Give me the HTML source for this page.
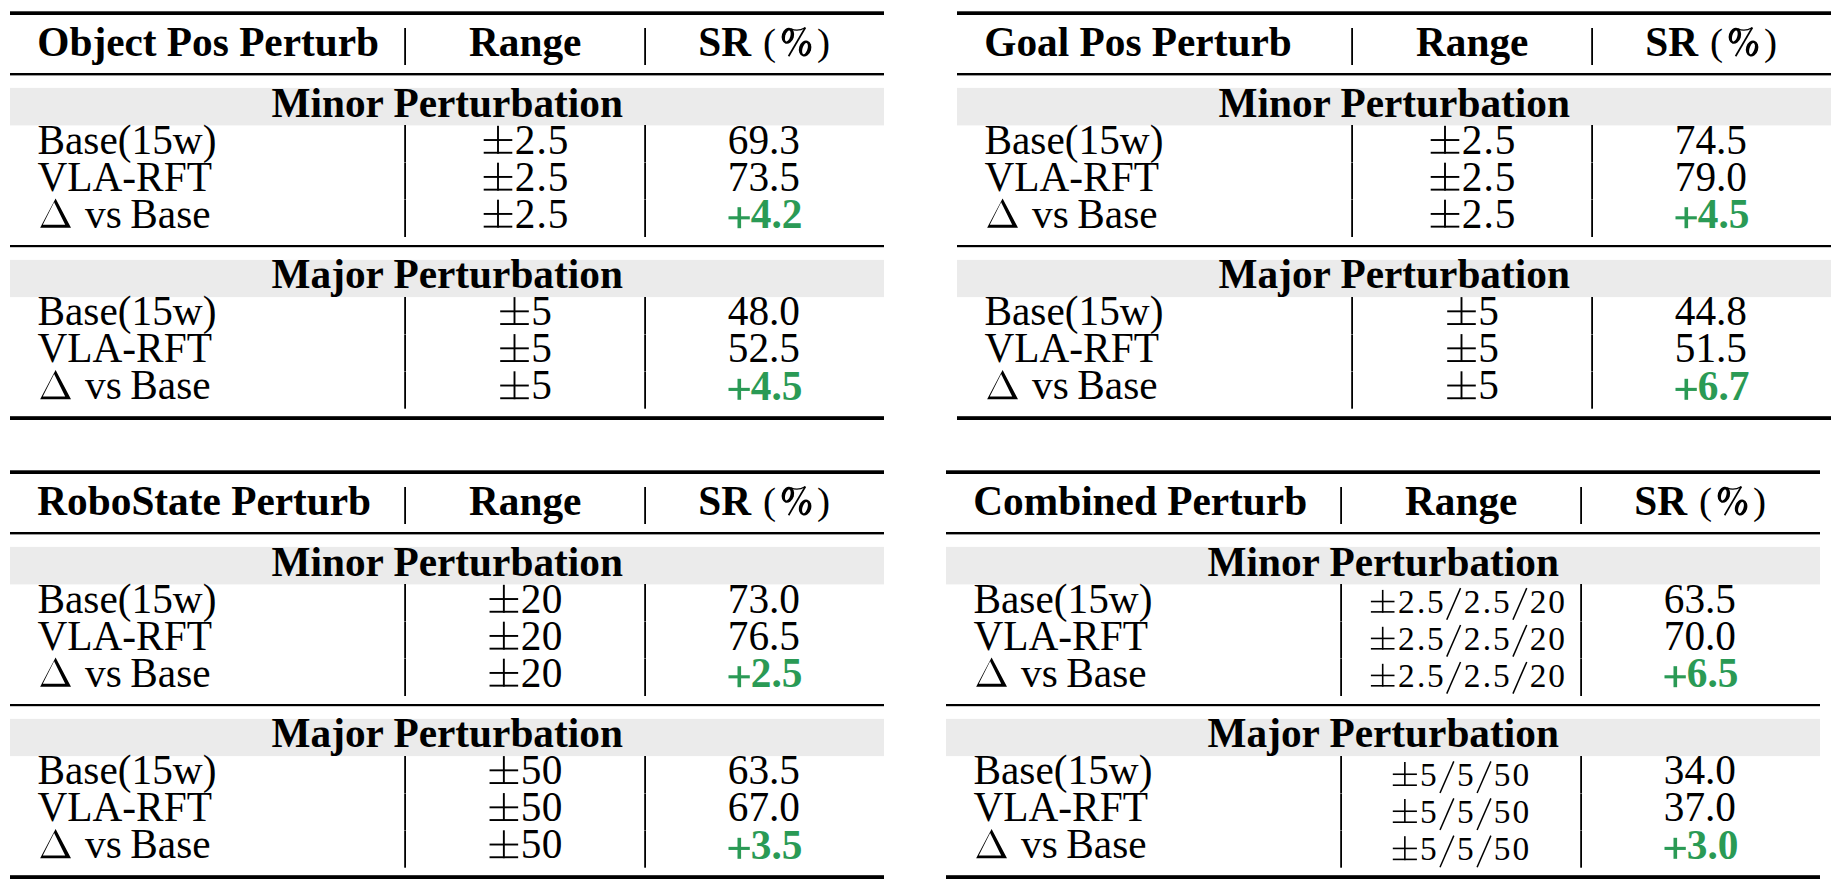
<!DOCTYPE html>
<html><head><meta charset="utf-8"><title>Perturbation tables</title>
<style>
html,body{margin:0;padding:0;background:#fff;}
body{width:1836px;height:893px;position:relative;overflow:hidden;}
svg text{font-family:"Liberation Serif",serif;}
</style></head><body>
<svg width="1836" height="893" viewBox="0 0 1836 893" style="position:absolute;left:0;top:0"><rect x="10.00" y="87.90" width="874.00" height="37.50" fill="#ebebeb"/><rect x="10.00" y="259.90" width="874.00" height="37.20" fill="#ebebeb"/><rect x="10.00" y="11.30" width="874.00" height="3.70" fill="#000"/><rect x="10.00" y="73.00" width="874.00" height="2.40" fill="#000"/><rect x="10.00" y="245.00" width="874.00" height="2.20" fill="#000"/><rect x="10.00" y="416.20" width="874.00" height="3.80" fill="#000"/><rect x="404.20" y="28.00" width="1.80" height="37.00" fill="#000"/><rect x="404.20" y="125.00" width="1.80" height="37.25" fill="#000"/><rect x="404.20" y="162.55" width="1.80" height="36.60" fill="#000"/><rect x="404.20" y="199.45" width="1.80" height="37.55" fill="#000"/><rect x="404.20" y="297.00" width="1.80" height="37.25" fill="#000"/><rect x="404.20" y="334.55" width="1.80" height="36.60" fill="#000"/><rect x="404.20" y="371.45" width="1.80" height="37.25" fill="#000"/><rect x="644.20" y="28.00" width="1.80" height="37.00" fill="#000"/><rect x="644.20" y="125.00" width="1.80" height="37.25" fill="#000"/><rect x="644.20" y="162.55" width="1.80" height="36.60" fill="#000"/><rect x="644.20" y="199.45" width="1.80" height="37.55" fill="#000"/><rect x="644.20" y="297.00" width="1.80" height="37.25" fill="#000"/><rect x="644.20" y="334.55" width="1.80" height="36.60" fill="#000"/><rect x="644.20" y="371.45" width="1.80" height="37.25" fill="#000"/><text x="37.30" y="56.00" text-anchor="start" font-weight="bold" fill="#000" font-size="41.3">Object Pos Perturb</text><text x="525.20" y="56.00" text-anchor="middle" font-weight="bold" fill="#000" font-size="41.3">Range</text><text x="698.30" y="56.00" text-anchor="start" font-weight="bold" fill="#000" font-size="41.3">SR</text><text transform="translate(769.60,55.00) scale(0.95,0.92)" text-anchor="middle" font-size="41.3">(</text><g transform="translate(0.00,0.00)"><ellipse cx="0" cy="0" rx="6.1" ry="8.2" transform="translate(787.9,35.8) rotate(16.6)"/><ellipse cx="0" cy="0" rx="2.5" ry="5.7" fill="#fff" transform="translate(787.8,36.0) rotate(16.6)"/><ellipse cx="0" cy="0" rx="6.1" ry="8.1" transform="translate(805.1,48.5) rotate(16.6)"/><ellipse cx="0" cy="0" rx="2.5" ry="5.8" fill="#fff" transform="translate(805.0,48.6) rotate(16.6)"/><line x1="788.6" y1="56.2" x2="805.4" y2="27.5" stroke="#000" stroke-width="1.7"/><path d="M790.5 28.6 Q797.5 32.2 805.0 27.8" fill="none" stroke="#000" stroke-width="1.2"/></g><text transform="translate(823.60,55.00) scale(0.95,0.92)" text-anchor="middle" font-size="41.3">)</text><text x="447.20" y="116.80" text-anchor="middle" font-weight="bold" fill="#000" font-size="41.3">Minor Perturbation</text><text x="447.20" y="287.70" text-anchor="middle" font-weight="bold" fill="#000" font-size="41.3">Major Perturbation</text><text x="37.50" y="153.70" text-anchor="start" font-weight="normal" fill="#000" font-size="41.3">Base(15w)</text><text x="37.50" y="190.60" text-anchor="start" font-weight="normal" fill="#000" font-size="41.3">VLA-RFT</text><path fill-rule="evenodd" d="M55.60 198.40 L71.00 227.70 L40.15 227.70 Z M54.10 202.30 L42.80 224.80 L65.20 224.80 Z"/><text x="85.00" y="227.60" text-anchor="start" font-weight="normal" fill="#000" font-size="41.3">vs</text><text x="130.30" y="227.60" text-anchor="start" font-weight="normal" fill="#000" font-size="41.3">Base</text><rect x="497.05" y="125.80" width="1.90" height="27.90" fill="#000"/><rect x="483.70" y="139.08" width="28.60" height="1.90" fill="#000"/><rect x="483.70" y="151.80" width="28.60" height="1.90" fill="#000"/><text x="525.00" y="153.70" text-anchor="middle" font-weight="normal" fill="#000" font-size="41.3">2</text><text x="541.60" y="153.70" text-anchor="middle" font-weight="normal" fill="#000" font-size="41.3">.</text><text x="558.15" y="153.70" text-anchor="middle" font-weight="normal" fill="#000" font-size="41.3">5</text><rect x="497.05" y="162.70" width="1.90" height="27.90" fill="#000"/><rect x="483.70" y="175.98" width="28.60" height="1.90" fill="#000"/><rect x="483.70" y="188.70" width="28.60" height="1.90" fill="#000"/><text x="525.00" y="190.60" text-anchor="middle" font-weight="normal" fill="#000" font-size="41.3">2</text><text x="541.60" y="190.60" text-anchor="middle" font-weight="normal" fill="#000" font-size="41.3">.</text><text x="558.15" y="190.60" text-anchor="middle" font-weight="normal" fill="#000" font-size="41.3">5</text><rect x="497.05" y="199.70" width="1.90" height="27.90" fill="#000"/><rect x="483.70" y="212.98" width="28.60" height="1.90" fill="#000"/><rect x="483.70" y="225.70" width="28.60" height="1.90" fill="#000"/><text x="525.00" y="227.60" text-anchor="middle" font-weight="normal" fill="#000" font-size="41.3">2</text><text x="541.60" y="227.60" text-anchor="middle" font-weight="normal" fill="#000" font-size="41.3">.</text><text x="558.15" y="227.60" text-anchor="middle" font-weight="normal" fill="#000" font-size="41.3">5</text><text x="763.90" y="153.70" text-anchor="middle" font-weight="normal" fill="#000" font-size="41.3">69.3</text><text x="763.90" y="190.60" text-anchor="middle" font-weight="normal" fill="#000" font-size="41.3">73.5</text><rect x="737.50" y="207.20" width="3.60" height="21.00" fill="#2a9a55"/><rect x="728.50" y="216.25" width="21.30" height="3.10" fill="#2a9a55"/><text x="776.55" y="228.30" text-anchor="middle" font-weight="bold" fill="#2a9a55" font-size="41.3">4.2</text><text x="37.50" y="325.00" text-anchor="start" font-weight="normal" fill="#000" font-size="41.3">Base(15w)</text><text x="37.50" y="362.00" text-anchor="start" font-weight="normal" fill="#000" font-size="41.3">VLA-RFT</text><path fill-rule="evenodd" d="M55.60 370.00 L71.00 399.30 L40.15 399.30 Z M54.10 373.90 L42.80 396.40 L65.20 396.40 Z"/><text x="85.00" y="399.20" text-anchor="start" font-weight="normal" fill="#000" font-size="41.3">vs</text><text x="130.30" y="399.20" text-anchor="start" font-weight="normal" fill="#000" font-size="41.3">Base</text><rect x="513.55" y="297.10" width="1.90" height="27.90" fill="#000"/><rect x="500.20" y="310.38" width="28.60" height="1.90" fill="#000"/><rect x="500.20" y="323.10" width="28.60" height="1.90" fill="#000"/><text x="541.60" y="325.00" text-anchor="middle" font-weight="normal" fill="#000" font-size="41.3">5</text><rect x="513.55" y="334.10" width="1.90" height="27.90" fill="#000"/><rect x="500.20" y="347.38" width="28.60" height="1.90" fill="#000"/><rect x="500.20" y="360.10" width="28.60" height="1.90" fill="#000"/><text x="541.60" y="362.00" text-anchor="middle" font-weight="normal" fill="#000" font-size="41.3">5</text><rect x="513.55" y="371.30" width="1.90" height="27.90" fill="#000"/><rect x="500.20" y="384.58" width="28.60" height="1.90" fill="#000"/><rect x="500.20" y="397.30" width="28.60" height="1.90" fill="#000"/><text x="541.60" y="399.20" text-anchor="middle" font-weight="normal" fill="#000" font-size="41.3">5</text><text x="763.90" y="325.00" text-anchor="middle" font-weight="normal" fill="#000" font-size="41.3">48.0</text><text x="763.90" y="362.00" text-anchor="middle" font-weight="normal" fill="#000" font-size="41.3">52.5</text><rect x="737.50" y="378.80" width="3.60" height="21.00" fill="#2a9a55"/><rect x="728.50" y="387.85" width="21.30" height="3.10" fill="#2a9a55"/><text x="776.55" y="399.90" text-anchor="middle" font-weight="bold" fill="#2a9a55" font-size="41.3">4.5</text><rect x="957.00" y="87.90" width="874.00" height="37.50" fill="#ebebeb"/><rect x="957.00" y="259.90" width="874.00" height="37.20" fill="#ebebeb"/><rect x="957.00" y="11.30" width="874.00" height="3.70" fill="#000"/><rect x="957.00" y="73.00" width="874.00" height="2.40" fill="#000"/><rect x="957.00" y="245.00" width="874.00" height="2.20" fill="#000"/><rect x="957.00" y="416.20" width="874.00" height="3.80" fill="#000"/><rect x="1351.20" y="28.00" width="1.80" height="37.00" fill="#000"/><rect x="1351.20" y="125.00" width="1.80" height="37.25" fill="#000"/><rect x="1351.20" y="162.55" width="1.80" height="36.60" fill="#000"/><rect x="1351.20" y="199.45" width="1.80" height="37.55" fill="#000"/><rect x="1351.20" y="297.00" width="1.80" height="37.25" fill="#000"/><rect x="1351.20" y="334.55" width="1.80" height="36.60" fill="#000"/><rect x="1351.20" y="371.45" width="1.80" height="37.25" fill="#000"/><rect x="1591.20" y="28.00" width="1.80" height="37.00" fill="#000"/><rect x="1591.20" y="125.00" width="1.80" height="37.25" fill="#000"/><rect x="1591.20" y="162.55" width="1.80" height="36.60" fill="#000"/><rect x="1591.20" y="199.45" width="1.80" height="37.55" fill="#000"/><rect x="1591.20" y="297.00" width="1.80" height="37.25" fill="#000"/><rect x="1591.20" y="334.55" width="1.80" height="36.60" fill="#000"/><rect x="1591.20" y="371.45" width="1.80" height="37.25" fill="#000"/><text x="984.30" y="56.00" text-anchor="start" font-weight="bold" fill="#000" font-size="41.3">Goal Pos Perturb</text><text x="1472.20" y="56.00" text-anchor="middle" font-weight="bold" fill="#000" font-size="41.3">Range</text><text x="1645.30" y="56.00" text-anchor="start" font-weight="bold" fill="#000" font-size="41.3">SR</text><text transform="translate(1716.60,55.00) scale(0.95,0.92)" text-anchor="middle" font-size="41.3">(</text><g transform="translate(947.00,0.00)"><ellipse cx="0" cy="0" rx="6.1" ry="8.2" transform="translate(787.9,35.8) rotate(16.6)"/><ellipse cx="0" cy="0" rx="2.5" ry="5.7" fill="#fff" transform="translate(787.8,36.0) rotate(16.6)"/><ellipse cx="0" cy="0" rx="6.1" ry="8.1" transform="translate(805.1,48.5) rotate(16.6)"/><ellipse cx="0" cy="0" rx="2.5" ry="5.8" fill="#fff" transform="translate(805.0,48.6) rotate(16.6)"/><line x1="788.6" y1="56.2" x2="805.4" y2="27.5" stroke="#000" stroke-width="1.7"/><path d="M790.5 28.6 Q797.5 32.2 805.0 27.8" fill="none" stroke="#000" stroke-width="1.2"/></g><text transform="translate(1770.60,55.00) scale(0.95,0.92)" text-anchor="middle" font-size="41.3">)</text><text x="1394.20" y="116.80" text-anchor="middle" font-weight="bold" fill="#000" font-size="41.3">Minor Perturbation</text><text x="1394.20" y="287.70" text-anchor="middle" font-weight="bold" fill="#000" font-size="41.3">Major Perturbation</text><text x="984.50" y="153.70" text-anchor="start" font-weight="normal" fill="#000" font-size="41.3">Base(15w)</text><text x="984.50" y="190.60" text-anchor="start" font-weight="normal" fill="#000" font-size="41.3">VLA-RFT</text><path fill-rule="evenodd" d="M1002.60 198.40 L1018.00 227.70 L987.15 227.70 Z M1001.10 202.30 L989.80 224.80 L1012.20 224.80 Z"/><text x="1032.00" y="227.60" text-anchor="start" font-weight="normal" fill="#000" font-size="41.3">vs</text><text x="1077.30" y="227.60" text-anchor="start" font-weight="normal" fill="#000" font-size="41.3">Base</text><rect x="1444.05" y="125.80" width="1.90" height="27.90" fill="#000"/><rect x="1430.70" y="139.08" width="28.60" height="1.90" fill="#000"/><rect x="1430.70" y="151.80" width="28.60" height="1.90" fill="#000"/><text x="1472.00" y="153.70" text-anchor="middle" font-weight="normal" fill="#000" font-size="41.3">2</text><text x="1488.60" y="153.70" text-anchor="middle" font-weight="normal" fill="#000" font-size="41.3">.</text><text x="1505.15" y="153.70" text-anchor="middle" font-weight="normal" fill="#000" font-size="41.3">5</text><rect x="1444.05" y="162.70" width="1.90" height="27.90" fill="#000"/><rect x="1430.70" y="175.98" width="28.60" height="1.90" fill="#000"/><rect x="1430.70" y="188.70" width="28.60" height="1.90" fill="#000"/><text x="1472.00" y="190.60" text-anchor="middle" font-weight="normal" fill="#000" font-size="41.3">2</text><text x="1488.60" y="190.60" text-anchor="middle" font-weight="normal" fill="#000" font-size="41.3">.</text><text x="1505.15" y="190.60" text-anchor="middle" font-weight="normal" fill="#000" font-size="41.3">5</text><rect x="1444.05" y="199.70" width="1.90" height="27.90" fill="#000"/><rect x="1430.70" y="212.98" width="28.60" height="1.90" fill="#000"/><rect x="1430.70" y="225.70" width="28.60" height="1.90" fill="#000"/><text x="1472.00" y="227.60" text-anchor="middle" font-weight="normal" fill="#000" font-size="41.3">2</text><text x="1488.60" y="227.60" text-anchor="middle" font-weight="normal" fill="#000" font-size="41.3">.</text><text x="1505.15" y="227.60" text-anchor="middle" font-weight="normal" fill="#000" font-size="41.3">5</text><text x="1710.90" y="153.70" text-anchor="middle" font-weight="normal" fill="#000" font-size="41.3">74.5</text><text x="1710.90" y="190.60" text-anchor="middle" font-weight="normal" fill="#000" font-size="41.3">79.0</text><rect x="1684.50" y="207.20" width="3.60" height="21.00" fill="#2a9a55"/><rect x="1675.50" y="216.25" width="21.30" height="3.10" fill="#2a9a55"/><text x="1723.55" y="228.30" text-anchor="middle" font-weight="bold" fill="#2a9a55" font-size="41.3">4.5</text><text x="984.50" y="325.00" text-anchor="start" font-weight="normal" fill="#000" font-size="41.3">Base(15w)</text><text x="984.50" y="362.00" text-anchor="start" font-weight="normal" fill="#000" font-size="41.3">VLA-RFT</text><path fill-rule="evenodd" d="M1002.60 370.00 L1018.00 399.30 L987.15 399.30 Z M1001.10 373.90 L989.80 396.40 L1012.20 396.40 Z"/><text x="1032.00" y="399.20" text-anchor="start" font-weight="normal" fill="#000" font-size="41.3">vs</text><text x="1077.30" y="399.20" text-anchor="start" font-weight="normal" fill="#000" font-size="41.3">Base</text><rect x="1460.55" y="297.10" width="1.90" height="27.90" fill="#000"/><rect x="1447.20" y="310.38" width="28.60" height="1.90" fill="#000"/><rect x="1447.20" y="323.10" width="28.60" height="1.90" fill="#000"/><text x="1488.60" y="325.00" text-anchor="middle" font-weight="normal" fill="#000" font-size="41.3">5</text><rect x="1460.55" y="334.10" width="1.90" height="27.90" fill="#000"/><rect x="1447.20" y="347.38" width="28.60" height="1.90" fill="#000"/><rect x="1447.20" y="360.10" width="28.60" height="1.90" fill="#000"/><text x="1488.60" y="362.00" text-anchor="middle" font-weight="normal" fill="#000" font-size="41.3">5</text><rect x="1460.55" y="371.30" width="1.90" height="27.90" fill="#000"/><rect x="1447.20" y="384.58" width="28.60" height="1.90" fill="#000"/><rect x="1447.20" y="397.30" width="28.60" height="1.90" fill="#000"/><text x="1488.60" y="399.20" text-anchor="middle" font-weight="normal" fill="#000" font-size="41.3">5</text><text x="1710.90" y="325.00" text-anchor="middle" font-weight="normal" fill="#000" font-size="41.3">44.8</text><text x="1710.90" y="362.00" text-anchor="middle" font-weight="normal" fill="#000" font-size="41.3">51.5</text><rect x="1684.50" y="378.80" width="3.60" height="21.00" fill="#2a9a55"/><rect x="1675.50" y="387.85" width="21.30" height="3.10" fill="#2a9a55"/><text x="1723.55" y="399.90" text-anchor="middle" font-weight="bold" fill="#2a9a55" font-size="41.3">6.7</text><rect x="10.00" y="546.90" width="874.00" height="37.50" fill="#ebebeb"/><rect x="10.00" y="718.90" width="874.00" height="37.20" fill="#ebebeb"/><rect x="10.00" y="470.30" width="874.00" height="3.70" fill="#000"/><rect x="10.00" y="532.00" width="874.00" height="2.40" fill="#000"/><rect x="10.00" y="704.00" width="874.00" height="2.20" fill="#000"/><rect x="10.00" y="875.20" width="874.00" height="3.80" fill="#000"/><rect x="404.20" y="487.00" width="1.80" height="37.00" fill="#000"/><rect x="404.20" y="584.00" width="1.80" height="37.25" fill="#000"/><rect x="404.20" y="621.55" width="1.80" height="36.60" fill="#000"/><rect x="404.20" y="658.45" width="1.80" height="37.55" fill="#000"/><rect x="404.20" y="756.00" width="1.80" height="37.25" fill="#000"/><rect x="404.20" y="793.55" width="1.80" height="36.60" fill="#000"/><rect x="404.20" y="830.45" width="1.80" height="37.25" fill="#000"/><rect x="644.20" y="487.00" width="1.80" height="37.00" fill="#000"/><rect x="644.20" y="584.00" width="1.80" height="37.25" fill="#000"/><rect x="644.20" y="621.55" width="1.80" height="36.60" fill="#000"/><rect x="644.20" y="658.45" width="1.80" height="37.55" fill="#000"/><rect x="644.20" y="756.00" width="1.80" height="37.25" fill="#000"/><rect x="644.20" y="793.55" width="1.80" height="36.60" fill="#000"/><rect x="644.20" y="830.45" width="1.80" height="37.25" fill="#000"/><text x="37.30" y="515.00" text-anchor="start" font-weight="bold" fill="#000" font-size="41.3">RoboState Perturb</text><text x="525.20" y="515.00" text-anchor="middle" font-weight="bold" fill="#000" font-size="41.3">Range</text><text x="698.30" y="515.00" text-anchor="start" font-weight="bold" fill="#000" font-size="41.3">SR</text><text transform="translate(769.60,514.00) scale(0.95,0.92)" text-anchor="middle" font-size="41.3">(</text><g transform="translate(0.00,459.00)"><ellipse cx="0" cy="0" rx="6.1" ry="8.2" transform="translate(787.9,35.8) rotate(16.6)"/><ellipse cx="0" cy="0" rx="2.5" ry="5.7" fill="#fff" transform="translate(787.8,36.0) rotate(16.6)"/><ellipse cx="0" cy="0" rx="6.1" ry="8.1" transform="translate(805.1,48.5) rotate(16.6)"/><ellipse cx="0" cy="0" rx="2.5" ry="5.8" fill="#fff" transform="translate(805.0,48.6) rotate(16.6)"/><line x1="788.6" y1="56.2" x2="805.4" y2="27.5" stroke="#000" stroke-width="1.7"/><path d="M790.5 28.6 Q797.5 32.2 805.0 27.8" fill="none" stroke="#000" stroke-width="1.2"/></g><text transform="translate(823.60,514.00) scale(0.95,0.92)" text-anchor="middle" font-size="41.3">)</text><text x="447.20" y="575.80" text-anchor="middle" font-weight="bold" fill="#000" font-size="41.3">Minor Perturbation</text><text x="447.20" y="746.70" text-anchor="middle" font-weight="bold" fill="#000" font-size="41.3">Major Perturbation</text><text x="37.50" y="612.70" text-anchor="start" font-weight="normal" fill="#000" font-size="41.3">Base(15w)</text><text x="37.50" y="649.60" text-anchor="start" font-weight="normal" fill="#000" font-size="41.3">VLA-RFT</text><path fill-rule="evenodd" d="M55.60 657.40 L71.00 686.70 L40.15 686.70 Z M54.10 661.30 L42.80 683.80 L65.20 683.80 Z"/><text x="85.00" y="686.60" text-anchor="start" font-weight="normal" fill="#000" font-size="41.3">vs</text><text x="130.30" y="686.60" text-anchor="start" font-weight="normal" fill="#000" font-size="41.3">Base</text><rect x="502.90" y="584.80" width="1.90" height="27.90" fill="#000"/><rect x="489.55" y="598.08" width="28.60" height="1.90" fill="#000"/><rect x="489.55" y="610.80" width="28.60" height="1.90" fill="#000"/><text x="531.00" y="612.70" text-anchor="middle" font-weight="normal" fill="#000" font-size="41.3">2</text><text x="552.00" y="612.70" text-anchor="middle" font-weight="normal" fill="#000" font-size="41.3">0</text><rect x="502.90" y="621.70" width="1.90" height="27.90" fill="#000"/><rect x="489.55" y="634.98" width="28.60" height="1.90" fill="#000"/><rect x="489.55" y="647.70" width="28.60" height="1.90" fill="#000"/><text x="531.00" y="649.60" text-anchor="middle" font-weight="normal" fill="#000" font-size="41.3">2</text><text x="552.00" y="649.60" text-anchor="middle" font-weight="normal" fill="#000" font-size="41.3">0</text><rect x="502.90" y="658.70" width="1.90" height="27.90" fill="#000"/><rect x="489.55" y="671.98" width="28.60" height="1.90" fill="#000"/><rect x="489.55" y="684.70" width="28.60" height="1.90" fill="#000"/><text x="531.00" y="686.60" text-anchor="middle" font-weight="normal" fill="#000" font-size="41.3">2</text><text x="552.00" y="686.60" text-anchor="middle" font-weight="normal" fill="#000" font-size="41.3">0</text><text x="763.90" y="612.70" text-anchor="middle" font-weight="normal" fill="#000" font-size="41.3">73.0</text><text x="763.90" y="649.60" text-anchor="middle" font-weight="normal" fill="#000" font-size="41.3">76.5</text><rect x="737.50" y="666.20" width="3.60" height="21.00" fill="#2a9a55"/><rect x="728.50" y="675.25" width="21.30" height="3.10" fill="#2a9a55"/><text x="776.55" y="687.30" text-anchor="middle" font-weight="bold" fill="#2a9a55" font-size="41.3">2.5</text><text x="37.50" y="784.00" text-anchor="start" font-weight="normal" fill="#000" font-size="41.3">Base(15w)</text><text x="37.50" y="821.00" text-anchor="start" font-weight="normal" fill="#000" font-size="41.3">VLA-RFT</text><path fill-rule="evenodd" d="M55.60 829.00 L71.00 858.30 L40.15 858.30 Z M54.10 832.90 L42.80 855.40 L65.20 855.40 Z"/><text x="85.00" y="858.20" text-anchor="start" font-weight="normal" fill="#000" font-size="41.3">vs</text><text x="130.30" y="858.20" text-anchor="start" font-weight="normal" fill="#000" font-size="41.3">Base</text><rect x="502.90" y="756.10" width="1.90" height="27.90" fill="#000"/><rect x="489.55" y="769.38" width="28.60" height="1.90" fill="#000"/><rect x="489.55" y="782.10" width="28.60" height="1.90" fill="#000"/><text x="531.00" y="784.00" text-anchor="middle" font-weight="normal" fill="#000" font-size="41.3">5</text><text x="552.00" y="784.00" text-anchor="middle" font-weight="normal" fill="#000" font-size="41.3">0</text><rect x="502.90" y="793.10" width="1.90" height="27.90" fill="#000"/><rect x="489.55" y="806.38" width="28.60" height="1.90" fill="#000"/><rect x="489.55" y="819.10" width="28.60" height="1.90" fill="#000"/><text x="531.00" y="821.00" text-anchor="middle" font-weight="normal" fill="#000" font-size="41.3">5</text><text x="552.00" y="821.00" text-anchor="middle" font-weight="normal" fill="#000" font-size="41.3">0</text><rect x="502.90" y="830.30" width="1.90" height="27.90" fill="#000"/><rect x="489.55" y="843.58" width="28.60" height="1.90" fill="#000"/><rect x="489.55" y="856.30" width="28.60" height="1.90" fill="#000"/><text x="531.00" y="858.20" text-anchor="middle" font-weight="normal" fill="#000" font-size="41.3">5</text><text x="552.00" y="858.20" text-anchor="middle" font-weight="normal" fill="#000" font-size="41.3">0</text><text x="763.90" y="784.00" text-anchor="middle" font-weight="normal" fill="#000" font-size="41.3">63.5</text><text x="763.90" y="821.00" text-anchor="middle" font-weight="normal" fill="#000" font-size="41.3">67.0</text><rect x="737.50" y="837.80" width="3.60" height="21.00" fill="#2a9a55"/><rect x="728.50" y="846.85" width="21.30" height="3.10" fill="#2a9a55"/><text x="776.55" y="858.90" text-anchor="middle" font-weight="bold" fill="#2a9a55" font-size="41.3">3.5</text><rect x="946.00" y="546.90" width="874.00" height="37.50" fill="#ebebeb"/><rect x="946.00" y="718.90" width="874.00" height="37.20" fill="#ebebeb"/><rect x="946.00" y="470.30" width="874.00" height="3.70" fill="#000"/><rect x="946.00" y="532.00" width="874.00" height="2.40" fill="#000"/><rect x="946.00" y="704.00" width="874.00" height="2.20" fill="#000"/><rect x="946.00" y="875.20" width="874.00" height="3.80" fill="#000"/><rect x="1340.20" y="487.00" width="1.80" height="37.00" fill="#000"/><rect x="1340.20" y="584.00" width="1.80" height="37.25" fill="#000"/><rect x="1340.20" y="621.55" width="1.80" height="36.60" fill="#000"/><rect x="1340.20" y="658.45" width="1.80" height="37.55" fill="#000"/><rect x="1340.20" y="756.00" width="1.80" height="37.25" fill="#000"/><rect x="1340.20" y="793.55" width="1.80" height="36.60" fill="#000"/><rect x="1340.20" y="830.45" width="1.80" height="37.25" fill="#000"/><rect x="1580.20" y="487.00" width="1.80" height="37.00" fill="#000"/><rect x="1580.20" y="584.00" width="1.80" height="37.25" fill="#000"/><rect x="1580.20" y="621.55" width="1.80" height="36.60" fill="#000"/><rect x="1580.20" y="658.45" width="1.80" height="37.55" fill="#000"/><rect x="1580.20" y="756.00" width="1.80" height="37.25" fill="#000"/><rect x="1580.20" y="793.55" width="1.80" height="36.60" fill="#000"/><rect x="1580.20" y="830.45" width="1.80" height="37.25" fill="#000"/><text x="973.30" y="515.00" text-anchor="start" font-weight="bold" fill="#000" font-size="41.3">Combined Perturb</text><text x="1461.20" y="515.00" text-anchor="middle" font-weight="bold" fill="#000" font-size="41.3">Range</text><text x="1634.30" y="515.00" text-anchor="start" font-weight="bold" fill="#000" font-size="41.3">SR</text><text transform="translate(1705.60,514.00) scale(0.95,0.92)" text-anchor="middle" font-size="41.3">(</text><g transform="translate(936.00,459.00)"><ellipse cx="0" cy="0" rx="6.1" ry="8.2" transform="translate(787.9,35.8) rotate(16.6)"/><ellipse cx="0" cy="0" rx="2.5" ry="5.7" fill="#fff" transform="translate(787.8,36.0) rotate(16.6)"/><ellipse cx="0" cy="0" rx="6.1" ry="8.1" transform="translate(805.1,48.5) rotate(16.6)"/><ellipse cx="0" cy="0" rx="2.5" ry="5.8" fill="#fff" transform="translate(805.0,48.6) rotate(16.6)"/><line x1="788.6" y1="56.2" x2="805.4" y2="27.5" stroke="#000" stroke-width="1.7"/><path d="M790.5 28.6 Q797.5 32.2 805.0 27.8" fill="none" stroke="#000" stroke-width="1.2"/></g><text transform="translate(1759.60,514.00) scale(0.95,0.92)" text-anchor="middle" font-size="41.3">)</text><text x="1383.20" y="575.80" text-anchor="middle" font-weight="bold" fill="#000" font-size="41.3">Minor Perturbation</text><text x="1383.20" y="746.70" text-anchor="middle" font-weight="bold" fill="#000" font-size="41.3">Major Perturbation</text><text x="973.50" y="612.70" text-anchor="start" font-weight="normal" fill="#000" font-size="41.3">Base(15w)</text><text x="973.50" y="649.60" text-anchor="start" font-weight="normal" fill="#000" font-size="41.3">VLA-RFT</text><path fill-rule="evenodd" d="M991.60 657.40 L1007.00 686.70 L976.15 686.70 Z M990.10 661.30 L978.80 683.80 L1001.20 683.80 Z"/><text x="1021.00" y="686.60" text-anchor="start" font-weight="normal" fill="#000" font-size="41.3">vs</text><text x="1066.30" y="686.60" text-anchor="start" font-weight="normal" fill="#000" font-size="41.3">Base</text><rect x="1381.90" y="589.90" width="1.60" height="22.80" fill="#000"/><rect x="1370.90" y="600.73" width="23.60" height="1.60" fill="#000"/><rect x="1370.90" y="611.10" width="23.60" height="1.60" fill="#000"/><text x="1406.25" y="612.70" text-anchor="middle" font-weight="normal" fill="#000" font-size="33.4">2</text><text x="1421.10" y="612.70" text-anchor="middle" font-weight="normal" fill="#000" font-size="33.4">.</text><text x="1435.25" y="612.70" text-anchor="middle" font-weight="normal" fill="#000" font-size="33.4">5</text><line x1="1446.75" y1="619.70" x2="1460.55" y2="588.10" stroke="#000" stroke-width="1.5"/><text x="1472.05" y="612.70" text-anchor="middle" font-weight="normal" fill="#000" font-size="33.4">2</text><text x="1486.95" y="612.70" text-anchor="middle" font-weight="normal" fill="#000" font-size="33.4">.</text><text x="1501.45" y="612.70" text-anchor="middle" font-weight="normal" fill="#000" font-size="33.4">5</text><line x1="1512.95" y1="619.70" x2="1526.75" y2="588.10" stroke="#000" stroke-width="1.5"/><text x="1538.20" y="612.70" text-anchor="middle" font-weight="normal" fill="#000" font-size="33.4">2</text><text x="1556.70" y="612.70" text-anchor="middle" font-weight="normal" fill="#000" font-size="33.4">0</text><rect x="1381.90" y="626.80" width="1.60" height="22.80" fill="#000"/><rect x="1370.90" y="637.63" width="23.60" height="1.60" fill="#000"/><rect x="1370.90" y="648.00" width="23.60" height="1.60" fill="#000"/><text x="1406.25" y="649.60" text-anchor="middle" font-weight="normal" fill="#000" font-size="33.4">2</text><text x="1421.10" y="649.60" text-anchor="middle" font-weight="normal" fill="#000" font-size="33.4">.</text><text x="1435.25" y="649.60" text-anchor="middle" font-weight="normal" fill="#000" font-size="33.4">5</text><line x1="1446.75" y1="656.60" x2="1460.55" y2="625.00" stroke="#000" stroke-width="1.5"/><text x="1472.05" y="649.60" text-anchor="middle" font-weight="normal" fill="#000" font-size="33.4">2</text><text x="1486.95" y="649.60" text-anchor="middle" font-weight="normal" fill="#000" font-size="33.4">.</text><text x="1501.45" y="649.60" text-anchor="middle" font-weight="normal" fill="#000" font-size="33.4">5</text><line x1="1512.95" y1="656.60" x2="1526.75" y2="625.00" stroke="#000" stroke-width="1.5"/><text x="1538.20" y="649.60" text-anchor="middle" font-weight="normal" fill="#000" font-size="33.4">2</text><text x="1556.70" y="649.60" text-anchor="middle" font-weight="normal" fill="#000" font-size="33.4">0</text><rect x="1381.90" y="663.80" width="1.60" height="22.80" fill="#000"/><rect x="1370.90" y="674.63" width="23.60" height="1.60" fill="#000"/><rect x="1370.90" y="685.00" width="23.60" height="1.60" fill="#000"/><text x="1406.25" y="686.60" text-anchor="middle" font-weight="normal" fill="#000" font-size="33.4">2</text><text x="1421.10" y="686.60" text-anchor="middle" font-weight="normal" fill="#000" font-size="33.4">.</text><text x="1435.25" y="686.60" text-anchor="middle" font-weight="normal" fill="#000" font-size="33.4">5</text><line x1="1446.75" y1="693.60" x2="1460.55" y2="662.00" stroke="#000" stroke-width="1.5"/><text x="1472.05" y="686.60" text-anchor="middle" font-weight="normal" fill="#000" font-size="33.4">2</text><text x="1486.95" y="686.60" text-anchor="middle" font-weight="normal" fill="#000" font-size="33.4">.</text><text x="1501.45" y="686.60" text-anchor="middle" font-weight="normal" fill="#000" font-size="33.4">5</text><line x1="1512.95" y1="693.60" x2="1526.75" y2="662.00" stroke="#000" stroke-width="1.5"/><text x="1538.20" y="686.60" text-anchor="middle" font-weight="normal" fill="#000" font-size="33.4">2</text><text x="1556.70" y="686.60" text-anchor="middle" font-weight="normal" fill="#000" font-size="33.4">0</text><text x="1699.90" y="612.70" text-anchor="middle" font-weight="normal" fill="#000" font-size="41.3">63.5</text><text x="1699.90" y="649.60" text-anchor="middle" font-weight="normal" fill="#000" font-size="41.3">70.0</text><rect x="1673.50" y="666.20" width="3.60" height="21.00" fill="#2a9a55"/><rect x="1664.50" y="675.25" width="21.30" height="3.10" fill="#2a9a55"/><text x="1712.55" y="687.30" text-anchor="middle" font-weight="bold" fill="#2a9a55" font-size="41.3">6.5</text><text x="973.50" y="784.00" text-anchor="start" font-weight="normal" fill="#000" font-size="41.3">Base(15w)</text><text x="973.50" y="821.00" text-anchor="start" font-weight="normal" fill="#000" font-size="41.3">VLA-RFT</text><path fill-rule="evenodd" d="M991.60 829.00 L1007.00 858.30 L976.15 858.30 Z M990.10 832.90 L978.80 855.40 L1001.20 855.40 Z"/><text x="1021.00" y="858.20" text-anchor="start" font-weight="normal" fill="#000" font-size="41.3">vs</text><text x="1066.30" y="858.20" text-anchor="start" font-weight="normal" fill="#000" font-size="41.3">Base</text><rect x="1404.05" y="762.00" width="1.60" height="24.00" fill="#000"/><rect x="1392.80" y="773.44" width="24.10" height="1.60" fill="#000"/><rect x="1392.80" y="784.40" width="24.10" height="1.60" fill="#000"/><text x="1428.30" y="786.00" text-anchor="middle" font-weight="normal" fill="#000" font-size="33.4">5</text><line x1="1440.00" y1="793.00" x2="1453.80" y2="761.40" stroke="#000" stroke-width="1.5"/><text x="1465.30" y="786.00" text-anchor="middle" font-weight="normal" fill="#000" font-size="33.4">5</text><line x1="1477.10" y1="793.00" x2="1490.90" y2="761.40" stroke="#000" stroke-width="1.5"/><text x="1502.00" y="786.00" text-anchor="middle" font-weight="normal" fill="#000" font-size="33.4">5</text><text x="1520.90" y="786.00" text-anchor="middle" font-weight="normal" fill="#000" font-size="33.4">0</text><rect x="1404.05" y="799.00" width="1.60" height="24.00" fill="#000"/><rect x="1392.80" y="810.44" width="24.10" height="1.60" fill="#000"/><rect x="1392.80" y="821.40" width="24.10" height="1.60" fill="#000"/><text x="1428.30" y="823.00" text-anchor="middle" font-weight="normal" fill="#000" font-size="33.4">5</text><line x1="1440.00" y1="830.00" x2="1453.80" y2="798.40" stroke="#000" stroke-width="1.5"/><text x="1465.30" y="823.00" text-anchor="middle" font-weight="normal" fill="#000" font-size="33.4">5</text><line x1="1477.10" y1="830.00" x2="1490.90" y2="798.40" stroke="#000" stroke-width="1.5"/><text x="1502.00" y="823.00" text-anchor="middle" font-weight="normal" fill="#000" font-size="33.4">5</text><text x="1520.90" y="823.00" text-anchor="middle" font-weight="normal" fill="#000" font-size="33.4">0</text><rect x="1404.05" y="836.20" width="1.60" height="24.00" fill="#000"/><rect x="1392.80" y="847.64" width="24.10" height="1.60" fill="#000"/><rect x="1392.80" y="858.60" width="24.10" height="1.60" fill="#000"/><text x="1428.30" y="860.20" text-anchor="middle" font-weight="normal" fill="#000" font-size="33.4">5</text><line x1="1440.00" y1="867.20" x2="1453.80" y2="835.60" stroke="#000" stroke-width="1.5"/><text x="1465.30" y="860.20" text-anchor="middle" font-weight="normal" fill="#000" font-size="33.4">5</text><line x1="1477.10" y1="867.20" x2="1490.90" y2="835.60" stroke="#000" stroke-width="1.5"/><text x="1502.00" y="860.20" text-anchor="middle" font-weight="normal" fill="#000" font-size="33.4">5</text><text x="1520.90" y="860.20" text-anchor="middle" font-weight="normal" fill="#000" font-size="33.4">0</text><text x="1699.90" y="784.00" text-anchor="middle" font-weight="normal" fill="#000" font-size="41.3">34.0</text><text x="1699.90" y="821.00" text-anchor="middle" font-weight="normal" fill="#000" font-size="41.3">37.0</text><rect x="1673.50" y="837.80" width="3.60" height="21.00" fill="#2a9a55"/><rect x="1664.50" y="846.85" width="21.30" height="3.10" fill="#2a9a55"/><text x="1712.55" y="858.90" text-anchor="middle" font-weight="bold" fill="#2a9a55" font-size="41.3">3.0</text></svg>
</body></html>
